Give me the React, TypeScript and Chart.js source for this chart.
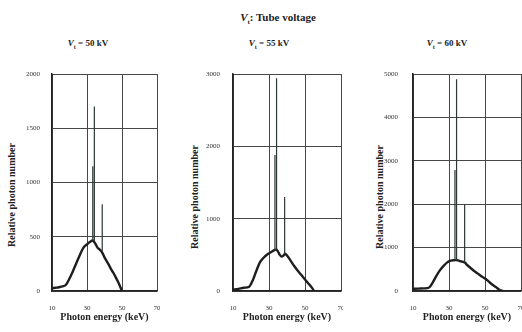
import React, { useEffect, useRef } from "react";
import { Chart, registerables } from "chart.js";

Chart.register(...registerables);

// ---------- data ----------
const energy50 = [10, 12, 14, 16, 18, 20, 22, 24, 26, 28, 30, 31, 32, 33, 34, 35, 36, 37, 38, 39, 40, 42, 44, 46, 48, 50];
const counts50 = [25, 30, 35, 42, 58, 115, 185, 260, 335, 400, 430, 445, 455, 465, 455, 430, 400, 385, 370, 345, 310, 255, 195, 140, 75, 0];
const lineEnergy50 = [33.3, 34.2, 38.7];
const lineBase50 = [462, 455, 372];
const lineTop50 = [1150, 1700, 800];

const energy55 = [10, 13, 16, 19, 21, 23, 25, 27, 29, 31, 33, 34, 35, 36, 37, 38, 39, 40, 42, 44, 46, 48, 50, 52, 54, 55];
const counts55 = [20, 30, 45, 60, 150, 280, 400, 460, 505, 535, 565, 575, 545, 500, 475, 490, 515, 490, 420, 345, 280, 220, 160, 100, 40, 0];
const lineEnergy55 = [33.3, 34.2, 38.7];
const lineBase55 = [568, 572, 505];
const lineTop55 = [1880, 2940, 1300];

const energy60 = [10, 13, 16, 19, 21, 23, 25, 27, 29, 31, 33, 34, 35, 36, 37, 38, 39, 40, 42, 44, 46, 48, 50, 52, 54, 56, 58, 60];
const counts60 = [50, 55, 60, 80, 200, 350, 480, 580, 660, 700, 710, 715, 705, 690, 680, 670, 650, 600, 530, 460, 400, 340, 290, 220, 150, 90, 30, 0];
const lineEnergy60 = [33.3, 34.2, 38.7];
const lineBase60 = [712, 713, 655];
const lineTop60 = [2790, 4880, 2000];

const xTickValues = [10, 30, 50, 70];
const yMaxes = [2000, 3000, 5000];
const ySteps = [500, 1000, 1000];
const voltages = ["50", "55", "60"];

const FONT = "'Liberation Serif', 'Times New Roman', serif";

type Geo = {
  left: number;
  width: number;
  yAxisWidth: number;
  padRight: number;
  yTickPad: number;
};

type Props = {
  energy: number[];
  counts: number[];
  lineE: number[];
  lineBase: number[];
  lineTop: number[];
  yMax: number;
  yStep: number;
  geo: Geo;
};

function SpectrumChart({ energy, counts, lineE, lineBase, lineTop, yMax, yStep, geo }: Props) {
  const ref = useRef<HTMLCanvasElement | null>(null);

  useEffect(() => {
    if (!ref.current) return;
    const continuum = energy.map((e, i) => ({ x: e, y: counts[i] }));
    const spikes: { x: number; y: number | null }[] = [];
    lineE.forEach((e, i) => {
      spikes.push({ x: e, y: lineBase[i] });
      spikes.push({ x: e, y: lineTop[i] });
      spikes.push({ x: e, y: null });
    });

    const chart = new Chart(ref.current, {
      type: "line",
      data: {
        datasets: [
          {
            data: spikes as any,
            borderColor: "#2c3832",
            borderWidth: 1.2,
            pointRadius: 0,
            spanGaps: false,
          },
          {
            data: continuum,
            borderColor: "#1e1e1e",
            borderWidth: 2.4,
            pointRadius: 0,
            cubicInterpolationMode: "monotone",
          },
        ],
      },
      options: {
        animation: false,
        responsive: false,
        maintainAspectRatio: false,
        layout: { padding: { top: 14, right: geo.padRight, bottom: 0, left: 0 } },
        plugins: { legend: { display: false }, tooltip: { enabled: false } },
        scales: {
          x: {
            type: "linear",
            min: 10,
            max: 70,
            afterBuildTicks: (s: any) => {
              s.ticks = xTickValues.map((v) => ({ value: v }));
            },
            afterFit: (s: any) => {
              s.height = 41;
              s.paddingLeft = 0;
              s.paddingRight = 0;
            },
            ticks: {
              padding: 13,
              autoSkip: false,
              maxRotation: 0,
              color: "#333",
              font: { family: FONT, size: 7 },
              callback: (v: any) => String(v),
            },
            grid: { color: "#474747", lineWidth: 1, drawTicks: false },
            border: { color: "#222", width: 1.5 },
            title: {
              display: true,
              text: "Photon energy (keV)",
              color: "#222",
              font: { family: FONT, size: 10, weight: "bold" },
              padding: { top: 0, bottom: 9 },
            },
          },
          y: {
            type: "linear",
            min: 0,
            max: yMax,
            afterFit: (s: any) => {
              s.width = geo.yAxisWidth;
              s.paddingTop = 0;
              s.paddingBottom = 0;
            },
            ticks: {
              stepSize: yStep,
              padding: geo.yTickPad,
              color: "#333",
              font: { family: FONT, size: 7 },
              callback: (v: any) => String(v),
            },
            grid: { color: "#474747", lineWidth: 1, drawTicks: false },
            border: { color: "#222", width: 1.5 },
          },
        },
      },
    });
    return () => chart.destroy();
  }, []);

  return (
    <canvas
      ref={ref}
      width={geo.width}
      height={272}
      style={{ position: "absolute", left: geo.left, top: 60, width: geo.width, height: 272 }}
    />
  );
}

function YTitle({ cx, cy }: { cx: number; cy: number }) {
  return (
    <div
      style={{
        position: "absolute",
        left: cx,
        top: cy,
        transform: "translate(-50%, -50%) rotate(-90deg)",
        whiteSpace: "nowrap",
        fontFamily: FONT,
        fontWeight: "bold",
        fontSize: 10,
        color: "#222",
        lineHeight: "12px",
      }}
    >
      Relative photon number
    </div>
  );
}

function SubTitle({ cx, v }: { cx: number; v: string }) {
  return (
    <div
      style={{
        position: "absolute",
        left: cx - 50,
        width: 100,
        top: 37,
        textAlign: "center",
        fontFamily: FONT,
        fontWeight: "bold",
        fontSize: 9,
        lineHeight: "12px",
        color: "#222",
        whiteSpace: "nowrap",
      }}
    >
      <i>V</i>
      <sub style={{ fontSize: 6 }}>t</sub> = {v} kV
    </div>
  );
}

export default function App() {
  const geos: Geo[] = [
    { left: 0, width: 160, yAxisWidth: 52, padRight: 3, yTickPad: 12 },
    { left: 183, width: 160, yAxisWidth: 50, padRight: 2, yTickPad: 13 },
    { left: 368, width: 154, yAxisWidth: 45, padRight: 1, yTickPad: 15 },
  ];
  return (
    <div
      style={{
        position: "fixed",
        left: 0,
        top: 0,
        width: 522,
        height: 332,
        background: "#fff",
        overflow: "hidden",
      }}
    >
      <div
        style={{
          position: "absolute",
          left: 178,
          width: 200,
          top: 10,
          textAlign: "center",
          fontFamily: FONT,
          fontWeight: "bold",
          fontSize: 11,
          lineHeight: "14px",
          color: "#222",
        }}
      >
        <i>V</i>
        <sub style={{ fontSize: 7 }}>t</sub>: Tube voltage
      </div>
      <SubTitle cx={88} v={voltages[0]} />
      <SubTitle cx={269} v={voltages[1]} />
      <SubTitle cx={447} v={voltages[2]} />
      <YTitle cx={12} cy={195} />
      <YTitle cx={195} cy={197} />
      <YTitle cx={380} cy={197} />
      <SpectrumChart
        energy={energy50}
        counts={counts50}
        lineE={lineEnergy50}
        lineBase={lineBase50}
        lineTop={lineTop50}
        yMax={yMaxes[0]}
        yStep={ySteps[0]}
        geo={geos[0]}
      />
      <SpectrumChart
        energy={energy55}
        counts={counts55}
        lineE={lineEnergy55}
        lineBase={lineBase55}
        lineTop={lineTop55}
        yMax={yMaxes[1]}
        yStep={ySteps[1]}
        geo={geos[1]}
      />
      <SpectrumChart
        energy={energy60}
        counts={counts60}
        lineE={lineEnergy60}
        lineBase={lineBase60}
        lineTop={lineTop60}
        yMax={yMaxes[2]}
        yStep={ySteps[2]}
        geo={geos[2]}
      />
    </div>
  );
}
